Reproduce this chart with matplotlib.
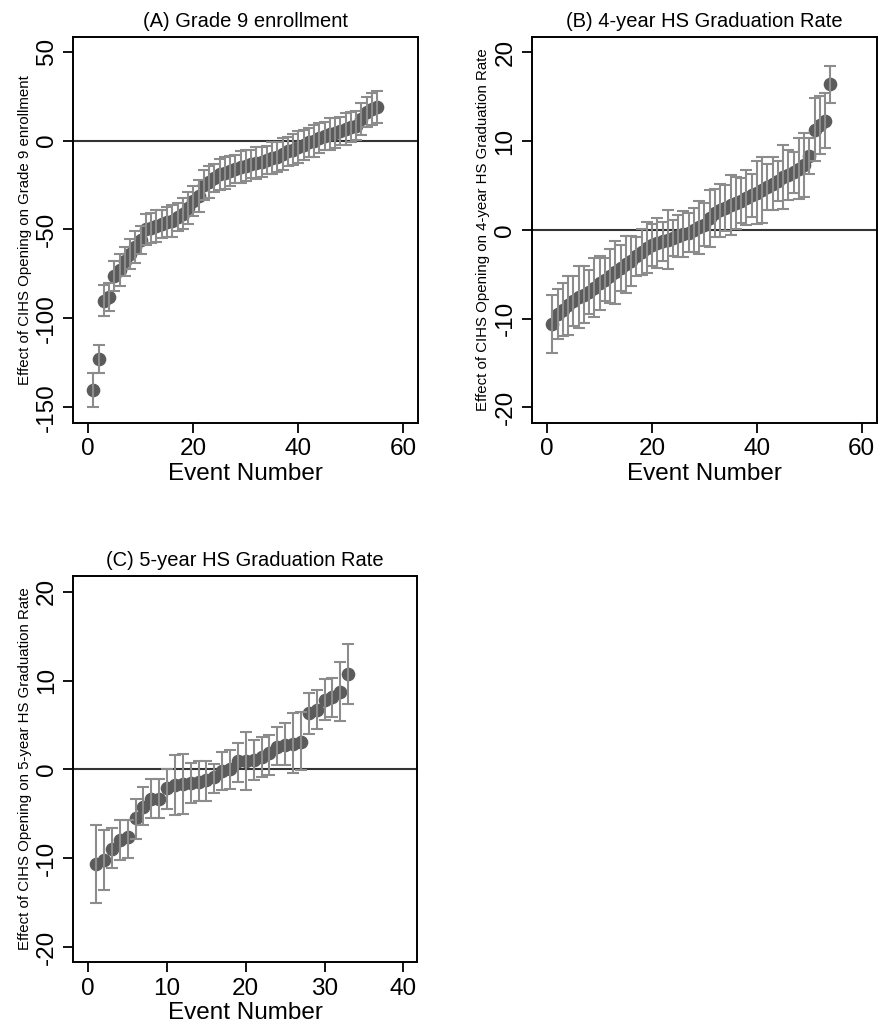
import matplotlib
matplotlib.use("Agg")
import matplotlib.pyplot as plt
import numpy as np

plt.rcParams['font.family'] = ['Liberation Sans', 'DejaVu Sans']
plt.rcParams['axes.unicode_minus'] = False

# ---------------- data ----------------
a_est = [-140.5, -123, -90, -88, -76, -73, -68, -64, -60, -56,
         -50, -49, -48, -47, -46, -45, -43, -41, -38, -34,
         -31, -25, -23, -21, -19, -18, -17, -16, -15, -14,
         -13, -12.5, -12, -11, -10, -9, -7.5, -6, -5, -3.5,
         -2.5, -1, 0, 1.5, 2.5, 3.5, 4.5, 5.5, 6.5, 7.5,
         8.5, 12, 16, 18, 19]
a_half = [9.5, 8, 8.5, 8, 8.5, 9, 8, 8.5, 9, 8,
          9, 8.5, 9, 8, 8.5, 9, 8, 8.5, 9, 8.5,
          9, 8.5, 9, 8, 8.5, 9, 8.5, 8, 9, 8.5,
          8, 9, 8.5, 8, 9, 8.5, 9, 8, 8.5, 9,
          8.5, 8, 9, 8.5, 8, 9, 8.5, 8, 9, 8.5,
          8, 9, 8.5, 9, 9]

b_est = [-10.6, -9.5, -9.0, -8.5, -8.0, -7.6, -7.3, -7.0, -6.5, -6.0,
         -5.6, -5.2, -4.8, -4.3, -3.9, -3.5, -3.0, -2.5, -2.0, -1.7,
         -1.5, -1.3, -1.1, -0.9, -0.7, -0.5, -0.3, 0.0, 0.3, 0.6,
         1.3, 1.9, 2.2, 2.5, 2.8, 3.0, 3.3, 3.6, 3.9, 4.2,
         4.5, 4.8, 5.2, 5.5, 5.9, 6.2, 6.5, 6.9, 7.3, 8.3,
         11.3, 11.8, 12.3, 16.4]
b_half = [3.3, 2.8, 3.0, 3.3, 2.8, 3.5, 3.2, 2.5, 3.3, 3.0,
          2.4, 3.0, 3.5, 2.6, 3.2, 2.8, 2.2, 2.6, 2.9, 2.4,
          2.8, 2.2, 3.3, 2.0, 2.4, 2.6, 2.2, 2.5, 3.0, 2.4,
          3.2, 2.7, 3.0, 2.6, 3.4, 2.9, 2.5, 3.1, 2.4, 3.5,
          3.7, 2.6, 3.0, 2.2, 3.6, 2.8, 2.3, 3.4, 3.6, 2.0,
          3.5, 3.3, 3.1, 2.1]

c_est = [-10.6, -10.2, -8.9, -7.9, -7.6, -5.5, -4.2, -3.3, -3.3, -2.1,
         -1.8, -1.6, -1.5, -1.4, -1.2, -0.8, -0.15, 0.1, 0.9, 1.0,
         1.1, 1.4, 1.8, 2.5, 2.7, 2.9, 3.1, 6.3, 6.7, 7.8,
         8.2, 8.7, 10.7]
c_hi = [-6.3, -6.8, -6.6, -5.7, -5.7, -3.3, -1.95, -1.1, -1.1, 0.0,
        1.6, 1.7, 0.7, 0.9, 0.9, 0.6, 2.0, 2.2, 3.0, 4.2,
        3.3, 3.7, 3.9, 4.8, 5.2, 6.3, 6.5, 8.6, 8.9, 10.2,
        10.3, 12.1, 14.1]
c_lo = [-15.0, -13.6, -11.1, -10.2, -10.0, -7.8, -6.3, -5.5, -5.5, -4.4,
        -5.1, -5.0, -3.8, -3.6, -3.6, -2.6, -2.3, -2.25, -1.4, -2.3,
        -1.2, -0.8, -0.6, 0.5, 0.5, -0.45, -0.1, 4.0, 4.5, 5.6,
        5.9, 5.4, 7.4]

titles = ["(A) Grade 9 enrollment", "(B) 4-year HS Graduation Rate",
          "(C) 5-year HS Graduation Rate"]
ylabels = ["Effect of CIHS Opening on Grade 9 enrollment",
           "Effect of CIHS Opening on 4-year HS Graduation Rate",
           "Effect of CIHS Opening on 5-year HS Graduation Rate"]
xlabel = "Event Number"

a_yticks = [-150, -100, -50, 0, 50]
bc_yticks = [-20, -10, 0, 10, 20]
ab_xticks = [0, 20, 40, 60]
c_xticks = [0, 10, 20, 30, 40]

# ---------------- figure ----------------
W, H = 880, 1026
fig = plt.figure(figsize=(W / 100, H / 100), dpi=100)

def ax_rect(l, t, r, b):
    return [l / W, 1 - b / H, (r - l) / W, (b - t) / H]

axA = fig.add_axes(ax_rect(73, 36.7, 417.5, 423))
axB = fig.add_axes(ax_rect(531.7, 36.7, 876.7, 423))
axC = fig.add_axes(ax_rect(73.3, 575.7, 416.7, 962.3))

mcol = '#5b5b5b'
ecol = '#8c8c8c'

def draw(ax, est, lo, hi, title, ylab, yticks, xticks, ylim, xlim):
    x = np.arange(1, len(est) + 1)
    est = np.asarray(est, float)
    ax.axhline(0, color='#333333', lw=1.5, zorder=1)
    ax.plot(x, est, 'o', color=mcol, ms=8.8, mec=mcol, zorder=2)
    yerr = np.vstack([est - np.asarray(lo), np.asarray(hi) - est])
    ax.errorbar(x, est, yerr=yerr, fmt='none', ecolor=ecol, elinewidth=1.5,
                capsize=4.5, capthick=1.5, zorder=3)
    ax.set_ylim(*ylim)
    ax.set_xlim(*xlim)
    ax.set_yticks(yticks)
    ax.set_yticklabels([str(t) for t in yticks], rotation=90, va='center',
                       fontsize=17.5)
    ax.set_xticks(xticks)
    ax.set_xticklabels([str(t) for t in xticks], fontsize=17.5)
    ax.tick_params(direction='out', length=7, width=1.3, pad=4)
    for s in ax.spines.values():
        s.set_linewidth(1.4)
    ax.set_title(title, fontsize=14.5, pad=7)
    ax.set_xlabel(xlabel, fontsize=17.5, labelpad=2)
    ax.set_ylabel(ylab, fontsize=10.8, labelpad=3)

a_lo = np.array(a_est) - np.array(a_half)
a_hi = np.array(a_est) + np.array(a_half)
b_lo = np.array(b_est) - np.array(b_half)
b_hi = np.array(b_est) + np.array(b_half)

draw(axA, a_est, a_lo, a_hi, titles[0], ylabels[0], a_yticks, ab_xticks,
     (-158.9, 58.5), (-2.9, 62.7))
draw(axB, b_est, b_lo, b_hi, titles[1], ylabels[1], bc_yticks, ab_xticks,
     (-21.75, 21.75), (-2.95, 62.85))
draw(axC, c_est, c_lo, c_hi, titles[2], ylabels[2], bc_yticks, c_xticks,
     (-21.7, 21.8), (-1.9, 41.7))

fig.savefig("out.png", dpi=100, facecolor='white')
